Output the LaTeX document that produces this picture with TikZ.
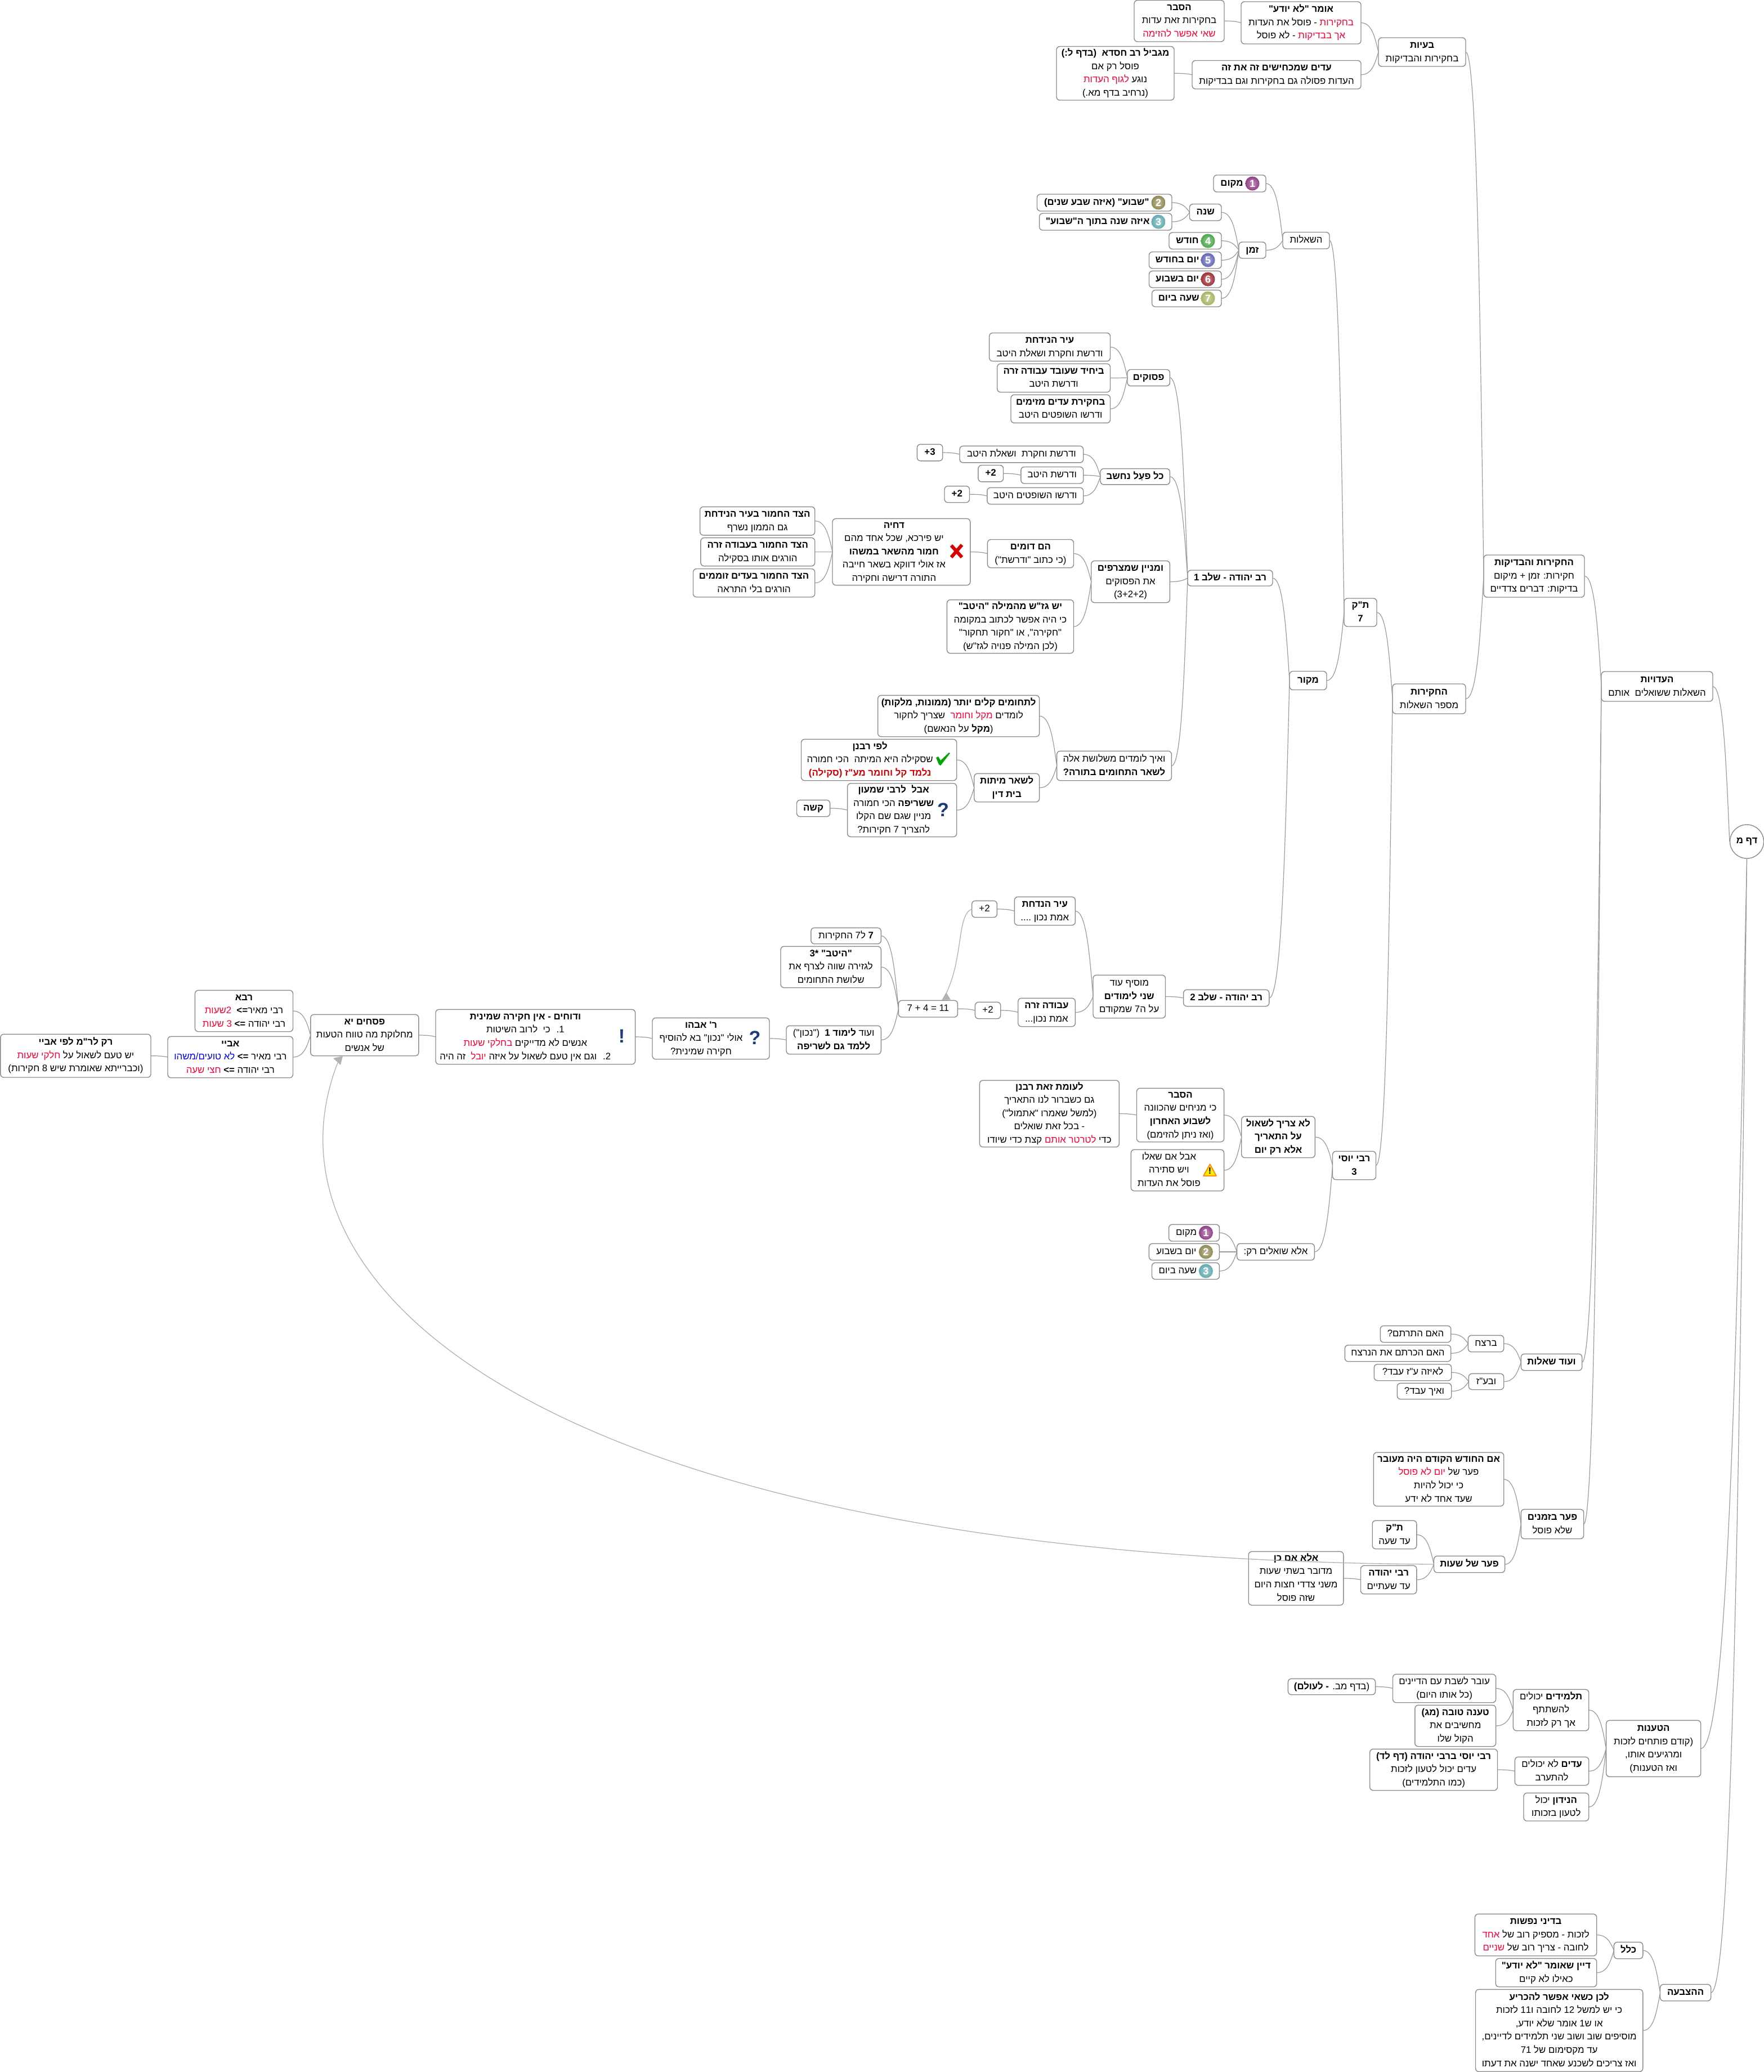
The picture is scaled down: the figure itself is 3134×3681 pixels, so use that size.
\documentclass[tikz,border=0pt]{standalone}
\usepackage{fontspec}
\usepackage{xcolor}
\usetikzlibrary{calc}
\TeXXeTstate=1
\newfontfamily\hb[Script=Hebrew]{Liberation Sans}
\newfontfamily\lat{Liberation Sans}
\definecolor{boxc}{HTML}{8C8C8C}
\definecolor{linkc}{HTML}{9A9A9A}
\definecolor{rd}{HTML}{FF0033}
\definecolor{drd}{HTML}{CC0000}
\definecolor{qblue}{HTML}{1F3A7A}
\definecolor{ba}{HTML}{8E3F85}
\definecolor{bb}{HTML}{8E8A52}
\definecolor{bc}{HTML}{62AAB0}
\definecolor{bd}{HTML}{4CA64C}
\definecolor{be}{HTML}{6468B8}
\definecolor{bf}{HTML}{9C3038}
\definecolor{bg}{HTML}{A5B561}
\newcommand\HR[1]{\leavevmode\beginR #1\endR}
\newcommand\HB[1]{{\bfseries\leavevmode\beginR #1\endR}}
\tikzset{
 bxs/.style={draw=boxc,line width=1.4pt,rounded corners=6pt,fill=white,inner sep=0pt,outer sep=0pt,anchor=north west,text=black,font=\hb\fontsize{16.8}{23.6}\selectfont},
 lnk/.style={draw=linkc,line width=1.2pt},
 rel/.style={draw=black!30,line width=1.3pt},
 ballst/.style={circle,inner sep=0pt,minimum size=25pt,text=white,font=\lat\bfseries\fontsize{18}{18}\selectfont},
 bigq/.style={inner sep=0pt,text=qblue,font=\lat\bfseries\fontsize{34}{34}\selectfont}
}
\newcommand\bx[7][0pt]{\node[bxs,minimum width={(#5-#3)*1pt},minimum height={(#6-#4)*1pt}] (#2) at (#3,#4) {\begin{tabular}{@{}c@{}}#7\end{tabular}\hspace*{#1}};}
\newcommand\lk[2]{\draw[lnk] let \p1=(#1.east),\p2=(#2.west) in (\p1) .. controls ({\x1+.62*(\x2-\x1)},\y1) and ({\x1+.8*(\x2-\x1)},{\y1+.5*(\y2-\y1)}) .. (\p2);}
\newcommand\lkr[2]{\draw[lnk] let \p1=(#1.east),\p2=(#2) in (\p1) .. controls ({\x1+.62*(\x2-\x1)},\y1) and ({\x1+.8*(\x2-\x1)},{\y1+.5*(\y2-\y1)}) .. (\p2);}
\newcommand\ball[4]{\node[ballst,shade,inner color=#3!55!white,outer color=#3] (#1) at (#2) {#4};}
\begin{document}
\begin{tikzpicture}[x=1pt,y=-1pt]
\path[use as bounding box,fill=white] (0,0) rectangle (3134,3681);
% root
\node[circle,draw=boxc,line width=1.4pt,fill=white,minimum size=60pt,inner sep=0pt,font=\hb\bfseries\fontsize{16.8}{23.6}\selectfont] (root) at (3103.5,1495) {\HR{דף מ}};
\bx{ed}{2845}{1193}{3043}{1246}{\HB{העדויות}\\\HR{השאלות ששואלים~ אותם}}
\bx{hb}{2636}{986}{2815}{1061}{\HB{החקירות והבדיקות}\\\HR{חקירות: זמן + מיקום}\\\HR{בדיקות: דברים צדדיים}}
\bx{bay}{2449}{67}{2604}{118}{\HB{בעיות}\\\HR{בחקירות והבדיקות}}
\bx{omer}{2205}{3}{2418}{78}{\HB{אומר "לא יודע"}\\\HR{- פוסל את העדות} \textcolor{rd}{\beginR בחקירות\endR}\\\HR{- לא פוסל} \textcolor{rd}{\beginR אך בבדיקות\endR}}
\bx{hesbA}{2015}{0.5}{2175}{74}{\HB{הסבר}\\\HR{בחקירות זאת עדות}\\\textcolor{rd}{\beginR שאי אפשר להזימה\endR}}
\bx{edimA}{2118}{107.5}{2418}{158}{\HB{עדים שמכחישים זה את זה}\\\HR{העדות פסולה גם בחקירות וגם בבדיקות}}
\bx{magb}{1877}{82.5}{2086}{178}{\HB{מגביל רב חסדא~ (בדף ל:)}\\\HR{פוסל רק אם}\\\textcolor{rd}{\beginR לגוף העדות\endR} \HR{נוגע}\\\HR{(נרחיב בדף מא.)}}
\bx{hak}{2474}{1215}{2604}{1268}{\HB{החקירות}\\\HR{מספר השאלות}}
\bx{tk}{2388}{1063}{2446}{1113}{\HB{ת"ק}\\\HB{7}}
\bx{shl}{2279}{412.5}{2362}{442}{\HR{השאלות}}
\bx[28pt]{makomA}{2156}{311}{2249}{341}{\HB{מקום}}
\bx{zman}{2201}{430}{2249}{459}{\HB{זמן}}
\bx{shana}{2113.5}{362.5}{2170}{392}{\HB{שנה}}
\bx[28pt]{shavua}{1842.5}{345}{2082}{375}{\HB{"שבוע" (איזה שבע שנים)}}
\bx[28pt]{eize}{1846.6}{379}{2082}{409}{\HB{איזה שנה בתוך ה"שבוע"}}
\bx[28pt]{hodesh}{2077}{413}{2170}{442.5}{\HB{חודש}}
\bx[28pt]{yomh}{2041.5}{447.5}{2170}{477}{\HB{יום בחודש}}
\bx[28pt]{yoms}{2041.5}{481.4}{2170}{511}{\HB{יום בשבוע}}
\bx[28pt]{shaa}{2046.6}{515.4}{2170}{545}{\HB{שעה ביום}}
\ball{ia}{2225,326}{ba}{1}
\ball{ib}{2058,360}{bb}{2}
\ball{ic}{2058,394}{bc}{3}
\ball{id}{2146,428}{bd}{4}
\ball{ie}{2146,462}{be}{5}
\ball{if}{2146,496}{bf}{6}
\ball{ig}{2146,530}{bg}{7}
\bx{makor}{2291}{1192.5}{2357}{1225.5}{\HB{מקור}}
\bx{yehA}{2110}{1013}{2261}{1041}{\HB{רב יהודה - שלב 1}}
\bx{psuk}{2003}{656.5}{2078.4}{685.6}{\HB{פסוקים}}
\bx{irA}{1757.6}{591.5}{1972.5}{641.6}{\HB{עיר הנידחת}\\\HR{ודרשת וחקרת ושאלת היטב}}
\bx{yahid}{1771.7}{646.2}{1972.5}{696.7}{\HB{ביחיד שעובד עבודה זרה}\\\HR{ודרשת היטב}}
\bx{hakir}{1796}{701.3}{1972.5}{751.4}{\HB{בחקירת עדים מזימים}\\\HR{ודרשו השופטים היטב}}
\bx{kol}{1955}{832.6}{2078.4}{860.9}{\HB{כל פעַל נחשב}}
\bx{dvA}{1705}{792.4}{1924.7}{821.9}{\HR{ודרשת וחקרת~ ושאלת היטב}}
\bx{dvB}{1813.8}{829.5}{1924.7}{859}{\HR{ודרשת היטב}}
\bx{dvC}{1753.8}{866.3}{1924.7}{895.7}{\HR{ודרשו השופטים היטב}}
\bx{plA}{1629.4}{789.3}{1674.7}{818.8}{{\lat\bfseries +3}}
\bx{plB}{1737.9}{826.5}{1782.5}{855.9}{{\lat\bfseries +2}}
\bx{plC}{1678}{863.6}{1722.5}{892.7}{{\lat\bfseries +2}}
\bx{mnyn}{1938.7}{996.4}{2078.4}{1070.6}{\HB{ומניין שמצרפים}\\\HR{את הפסוקים}\\\HR{(3+2+2)}}
\bx{domim}{1754.4}{958.5}{1907.5}{1008.6}{\HB{הם דומים}\\\HR{(כי כתוב "ודרשת")}}
\bx[26pt]{dhia}{1479}{921.4}{1723.8}{1039.6}{\HB{דחיה}\\\HR{יש פירכא, שכל אחד מהם}\\\HB{חמור מהשאר במשהו}\\\HR{אז אולי דווקא בשאר חייבה}\\\HR{התורה דרישה וחקירה}}
\bx{tsdA}{1243.6}{900.3}{1447.7}{950.8}{\HB{הצד החמור בעיר הנידחת}\\\HR{גם הממון נשרף}}
\bx{tsdB}{1244.9}{955.4}{1447.7}{1005.6}{\HB{הצד החמור בעבודה זרה}\\\HR{הורגים אותו בסקילה}}
\bx{tsdC}{1231.5}{1010.5}{1447.7}{1060.7}{\HB{הצד החמור בעדים זוממים}\\\HR{הורגים בלי התראה}}
\bx{gzsh}{1682.4}{1065.6}{1907.5}{1160.6}{\HB{יש גז"ש מהמילה "היטב"}\\\HR{כי היה אפשר לכתוב במקומה}\\\HR{"חקירה", או "חקור תחקור"}\\\HR{(לכן המילה פנויה לגז"ש)}}
\bx{eih}{1877.6}{1334.3}{2081.4}{1386.7}{\HR{ואיך לומדים משלושת אלה}\\\HB{לשאר התחומים בתורה?}}
\bx{ltch}{1559.6}{1235.3}{1846.6}{1308.7}{\HB{לתחומים קלים יותר (ממונות, מלקות)}\\\HR{שצריך לחקור}~~\textcolor{rd}{\beginR מקל וחומר\endR} \HR{לומדים}\\\HR{(\textbf{מקל} על הנאשם)}}
\bx{lshr}{1730.7}{1374.3}{1846.6}{1424.7}{\HB{לשאר מיתות}\\\HB{בית דין}}
\bx[32pt]{lfi}{1423.5}{1313.3}{1699.7}{1386.7}{\HB{לפי רבנן}\\\HR{שסקילה היא המיתה~ הכי חמורה}\\\textcolor{drd}{\HB{נלמד קל וחומר מע"ז (סקילה)}}}
\bx[30pt]{aval}{1505.6}{1391.7}{1699.7}{1486.7}{\HB{אבל~ לרבי שמעון}\\\HR{\textbf{ששריפה} הכי חמורה}\\\HR{מניין שגם שם הקלו}\\\HR{להצריך 7 חקירות?}}
\bx{ksha}{1415.5}{1421.3}{1474.6}{1450.7}{\HB{קשה}}
\bx{yehB}{2102.6}{1758.3}{2254.8}{1787.7}{\HB{רב יהודה - שלב 2}}
\bx{mosif}{1942}{1732.3}{2070.5}{1808.7}{\HR{מוסיף עוד}\\\HB{שני לימודים}\\\HR{על ה7 שמקודם}}
\bx{irB}{1802.4}{1593.3}{1910.3}{1643.7}{\HB{עיר הנדחת}\\\HR{אמת נכון ....}}
\bx{azB}{1808.7}{1773.3}{1910.3}{1823.7}{\HB{עבודה זרה}\\\HR{אמת נכון...}}
\bx{ptop}{1726.6}{1600.3}{1771.4}{1629.7}{{\lat +2}}
\bx{plow}{1732.4}{1780.3}{1777.7}{1809.7}{{\lat +2}}
\bx{eleven}{1596.3}{1777.3}{1701.4}{1807}{{\lat 7 + 4 = 11}}
\bx{sevn}{1440.8}{1648.3}{1565.3}{1676.7}{\HR{\textbf{7} ל7 החקירות}}
\bx{heitv}{1387}{1681.3}{1565.3}{1754.7}{\HB{"היטב" *3}\\\HR{לגזירה שווה לצרף את}\\\HR{שלושת התחומים}}
\bx{limud}{1397}{1822.3}{1565.3}{1872.7}{\HR{ועוד \textbf{לימוד 1}~ ("נכון")}\\\HB{ללמד גם לשריפה}}
\bx[35pt]{abahu}{1159}{1808.3}{1367}{1881.7}{\HB{ר' אבהו}\\\HR{אולי "נכון" בא להוסיף}\\\HR{חקירה שמינית?}}
\bx[36pt]{dohim}{774}{1793.3}{1128.6}{1890.7}{\HB{ודוחים - אין חקירה שמינית}\\\HR{1.~ כי~ לרוב השיטות}\\\textcolor{rd}{\beginR בחלקי שעות\endR} \HR{אנשים לא מדייקים}\\\HR{זה היה}~~\textcolor{rd}{\beginR יובל\endR} \HR{2.~ וגם אין טעם לשאול על איזה}}
\bx{pes}{551.8}{1802.3}{743.8}{1875.7}{\HB{פסחים יא}\\\HR{מחלוקת מה טווח הטעות}\\\HR{של אנשים}}
\bx{rava}{346.4}{1759.3}{520.5}{1832.7}{\HB{רבא}\\\textcolor{rd}{\beginR 2שעות\endR}~~\HR{רבי מאיר\textbf{=>}}\\\textcolor{rd}{\beginR 3 שעות\endR} \HR{רבי יהודה \textbf{=>}}}
\bx{abaye}{298}{1841.3}{520.5}{1914.7}{\HB{אביי}\\\textcolor{blue}{\beginR לא טועים/משהו\endR} \HR{רבי מאיר \textbf{=>}}\\\textcolor{rd}{\beginR חצי שעה\endR} \HR{רבי יהודה \textbf{=>}}}
\bx{rakr}{0.8}{1837.3}{268}{1914}{\HB{רק לר"מ לפי אביי}\\\textcolor{rd}{\beginR חלקי שעות\endR} \HR{יש טעם לשאול על}\\\HR{(וכברייתא שאומרת שיש 8 חקירות)}}
\bx{yosi}{2367.5}{2045.3}{2444.5}{2095.7}{\HB{רבי יוסי}\\\HB{3}}
\bx{lotsa}{2205.7}{1983.3}{2336.3}{2056.7}{\HB{לא צריך לשאול}\\\HB{על התאריך}\\\HB{אלא רק יום}}
\bx{hesbB}{2019.5}{1933.3}{2174.6}{2028.7}{\HB{הסבר}\\\HR{כי מניחים שהכוונה}\\\HB{לשבוע האחרון}\\\HR{(ואז ניתן להזימם)}}
\bx{leumat}{1740.4}{1919.3}{1988.4}{2037.7}{\HB{לעומת זאת רבנן}\\\HR{גם כשברור לנו התאריך}\\\HR{(למשל שאמרו "אתמול")}\\\HR{- בכל זאת שואלים}\\\HR{קצת כדי שיודו} \textcolor{rd}{\beginR לטרטר אותם\endR} \HR{כדי}}
\bx[30pt]{avalim}{2009.3}{2042.3}{2174.6}{2115.7}{\HR{אבל אם שאלו}\\\HR{ויש סתירה}\\\HR{פוסל את העדות}}
\bx{ela}{2197.6}{2209.3}{2335.3}{2238.7}{\HR{אלא שואלים רק:}}
\bx[28pt]{mkB}{2076.6}{2175.3}{2166.4}{2205}{\HR{מקום}}
\bx[28pt]{ysB}{2041.4}{2209.3}{2166.4}{2238.7}{\HR{יום בשבוע}}
\bx[28pt]{sbB}{2046.5}{2243.3}{2166.4}{2272.7}{\HR{שעה ביום}}
\ball{ja}{2142.4,2190}{ba}{1}
\ball{jb}{2142.4,2224}{bb}{2}
\ball{jc}{2142.4,2258}{bc}{3}
\bx{odsh}{2702.3}{2405.3}{2810.7}{2434.7}{\HB{ועוד שאלות}}
\bx{bretsah}{2608.3}{2372.3}{2671.7}{2401.7}{\HR{ברצח}}
\bx{baz}{2609.3}{2440.3}{2671.7}{2468.7}{\HR{ובע"ז}}
\bx{hitr}{2452.3}{2355.3}{2577.7}{2384.7}{\HR{האם התרתם?}}
\bx{hikr}{2389.3}{2389.7}{2577.7}{2418.7}{\HR{האם הכרתם את הנרצח}}
\bx{leze}{2441.3}{2423.7}{2578.7}{2452.7}{\HR{לאיזה ע"ז עבד?}}
\bx{veih}{2482.3}{2457.3}{2578.7}{2485.7}{\HR{ואיך עבד?}}
\bx{perz}{2702.3}{2681.3}{2813.7}{2733.7}{\HB{פער בזמנים}\\\HR{שלא פוסל}}
\bx{imh}{2440.3}{2580.3}{2671.7}{2675.7}{\HB{אם החודש הקודם היה מעובר}\\\textcolor{rd}{\beginR יום לא פוסל\endR} \HR{פער של}\\\HR{כי יכול להיות}\\\HR{שעד אחד לא ידע}}
\bx{pers}{2547.5}{2764.3}{2673.6}{2793.7}{\HB{פער של שעות}}
\bx{tkB}{2438.2}{2701.3}{2516.8}{2751.7}{\HB{ת"ק}\\\HR{עד שעה}}
\bx{ryB}{2417.5}{2781.3}{2516.8}{2831.7}{\HB{רבי יהודה}\\\HR{עד שעתיים}}
\bx{elaim}{2218.2}{2756.3}{2386.8}{2851.7}{\HB{אלא אם כן}\\\HR{מדובר בשתי שעות}\\\HR{משני צדדי חצות היום}\\\HR{שזה פוסל}}
\bx{taan}{2853.6}{3056.3}{3021.7}{3156.3}{\HB{הטענות}\\\HR{(קודם פותחים לזכות}\\\HR{ומרגיעים אותו,}\\\HR{ואז הטענות)}}
\bx{talm}{2688.4}{3001.3}{2822.7}{3074.7}{\HR{\textbf{תלמידים} יכולים}\\\HR{להשתתף}\\\HR{אך רק לזכות}}
\bx{over}{2474.5}{2974.3}{2657.6}{3024.7}{\HR{עובר לשבת עם הדיינים}\\\HR{(כל אותו היום)}}
\bx{bdaf}{2288.4}{2982.3}{2443.6}{3010.7}{\HR{(בדף מב. \textbf{- לעולם)}}}
\bx{tova}{2513.8}{3029.3}{2657.6}{3102.7}{\HB{טענה טובה (מג)}\\\HR{מחשיבים את}\\\HR{הקול שלו}}
\bx{edimB}{2691.4}{3121.3}{2822.7}{3171.7}{\HR{\textbf{עדים} לא יכולים}\\\HR{להתערב}}
\bx{ryy}{2433.7}{3107.3}{2660.5}{3180.7}{\HB{רבי יוסי ברבי יהודה (דף לד)}\\\HR{עדים יכול לטעון לזכות}\\\HR{(כמו התלמידים)}}
\bx{nid}{2707}{3185.3}{2822.7}{3235}{\HR{\textbf{הנידון} יכול}\\\HR{לטעון בזכותו}}
\bx{hatsb}{2949.5}{3525.3}{3039.7}{3554.7}{\HB{ההצבעה}}
\bx{klal}{2867.4}{3450.3}{2918.8}{3479.7}{\HB{כלל}}
\bx{bdini}{2620.4}{3400.3}{2836.7}{3474.7}{\HB{בדיני נפשות}\\\textcolor{rd}{\beginR אחד\endR} \HR{לזכות - מספיק רוב של}\\\textcolor{rd}{\beginR שניים\endR} \HR{לחובה - צריך רוב של}}
\bx{dayan}{2657.2}{3479.3}{2836.7}{3529.7}{\HB{דיין שאומר "לא יודע"}\\\HR{כאילו לא קיים}}
\bx{lachen}{2621.5}{3534.3}{2918.8}{3680.4}{\HB{לכן כשאי אפשר להכריע}\\\HR{כי יש למשל 12 לחובה ו11 לזכות}\\\HR{או ש1 אומר שלא יודע,}\\\HR{מוסיפים שוב ושוב שני תלמידים לדיינים,}\\\HR{עד מקסימום של 71}\\\HR{ואז צריכים לשכנע שאחד ישנה את דעתו}}
% icons in boxes
\draw[line width=6pt,draw=red!85!black] (1690,969) -- (1709,990) (1709,968) -- (1690,990);
\fill[green!65!black] (1663,1346) -- (1667,1344) -- (1671,1351) -- (1686,1337) -- (1688,1338) -- (1671,1360) -- (1668,1358) -- cycle;
\node[bigq] (qa) at (1675.5,1439) {?};
\node[bigq] (qb) at (1341,1844) {?};
\node[bigq] (ex) at (1104.5,1841) {!};
\draw[fill=yellow!90!orange,draw=orange,line width=1.5pt,line join=round] (2149.6,2068) -- (2138,2089) -- (2161,2089) -- cycle;
\node[inner sep=0pt,font=\lat\bfseries\fontsize{16}{16}\selectfont] (wx) at (2149.6,2080) {!};
% links
\lk{ed}{root}
\lk{hb}{ed}\lk{odsh}{ed}\lk{perz}{ed}
\lk{bay}{hb}\lk{hak}{hb}
\lk{omer}{bay}\lk{edimA}{bay}\lk{hesbA}{omer}\lk{magb}{edimA}
\lk{tk}{hak}\lk{yosi}{hak}
\lk{shl}{tk}\lk{makor}{tk}
\lk{makomA}{shl}\lk{zman}{shl}
\lk{shana}{zman}\lk{hodesh}{zman}\lk{yomh}{zman}\lk{yoms}{zman}\lk{shaa}{zman}
\lk{shavua}{shana}\lk{eize}{shana}
\lk{yehA}{makor}\lk{yehB}{makor}
\lk{psuk}{yehA}\lk{kol}{yehA}\lk{mnyn}{yehA}\lk{eih}{yehA}
\lk{irA}{psuk}\lk{yahid}{psuk}\lk{hakir}{psuk}
\lk{dvA}{kol}\lk{dvB}{kol}\lk{dvC}{kol}
\lk{plA}{dvA}\lk{plB}{dvB}\lk{plC}{dvC}
\lk{domim}{mnyn}\lk{gzsh}{mnyn}\lk{dhia}{domim}
\lk{tsdA}{dhia}\lk{tsdB}{dhia}\lk{tsdC}{dhia}
\lk{ltch}{eih}\lk{lshr}{eih}\lk{lfi}{lshr}\lk{aval}{lshr}\lk{ksha}{aval}
\lk{mosif}{yehB}\lk{irB}{mosif}\lk{azB}{mosif}
\lk{ptop}{irB}\lk{plow}{azB}\lk{eleven}{plow}
\lk{sevn}{eleven}\lk{heitv}{eleven}\lk{limud}{eleven}
\lk{abahu}{limud}\lk{dohim}{abahu}\lk{pes}{dohim}
\lk{rava}{pes}\lk{abaye}{pes}\lk{rakr}{abaye}
\lk{lotsa}{yosi}\lk{ela}{yosi}
\lk{hesbB}{lotsa}\lk{avalim}{lotsa}\lk{leumat}{hesbB}
\lk{mkB}{ela}\lk{ysB}{ela}\lk{sbB}{ela}
\lk{bretsah}{odsh}\lk{baz}{odsh}
\lk{hitr}{bretsah}\lk{hikr}{bretsah}\lk{leze}{baz}\lk{veih}{baz}
\lk{imh}{perz}\lk{pers}{perz}\lk{tkB}{pers}\lk{ryB}{pers}\lk{elaim}{ryB}
\lkr{taan}{root.south}\lkr{hatsb}{root.south}
\lk{talm}{taan}\lk{edimB}{taan}\lk{nid}{taan}
\lk{over}{talm}\lk{tova}{talm}\lk{bdaf}{over}\lk{ryy}{edimB}
\lk{klal}{hatsb}\lk{lachen}{hatsb}\lk{bdini}{klal}\lk{dayan}{klal}
% relationships
\coordinate (elTip) at (1681,1765);
\coordinate (pesTip) at (600,1888);
\draw[rel] (ptop.west) .. controls (1700,1625) and (1712,1700) .. (elTip);
\fill[black!30] (1681,1763) -- (1673,1777) -- (1689,1776) -- cycle;
\draw[rel] (pers.west) .. controls (1000,2770) and (440,2300) .. (pesTip);
\fill[black!30] (609,1876) -- (592,1880) -- (605,1892) -- cycle;
\end{tikzpicture}
\end{document}
